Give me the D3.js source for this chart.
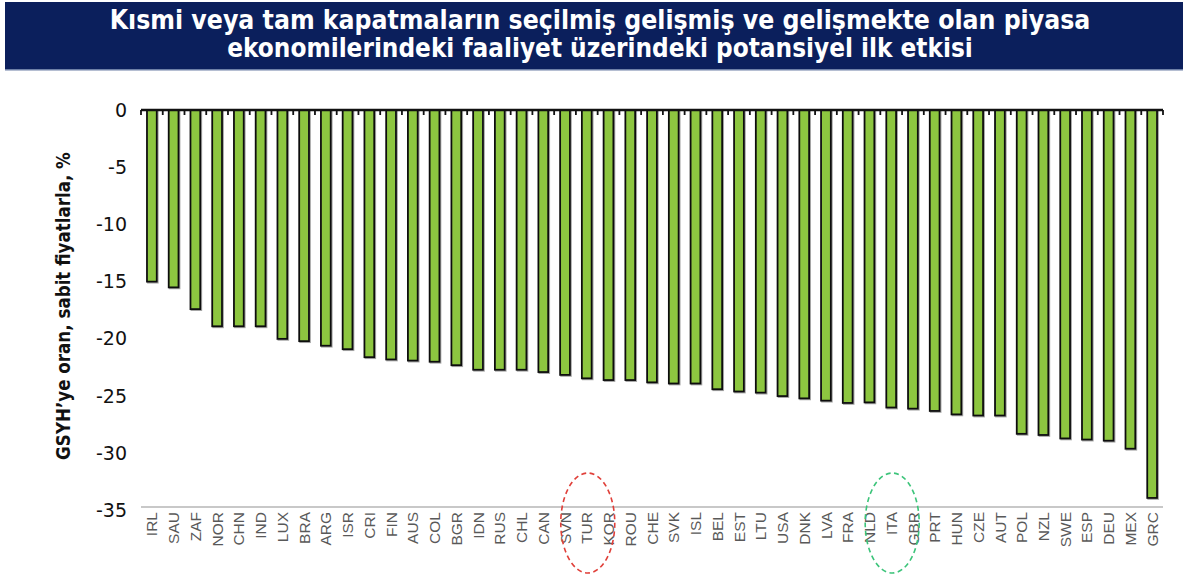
<!DOCTYPE html>
<html><head><meta charset="utf-8">
<script src="https://cdn.jsdelivr.net/npm/d3@7/dist/d3.min.js"></script>
<style>body{margin:0;background:#fff}svg{display:block}</style>
</head><body>
<svg id="c" width="1187" height="574"></svg>
<script>
const categories = ["IRL","SAU","ZAF","NOR","CHN","IND","LUX","BRA","ARG","ISR","CRI","FIN","AUS","COL","BGR","IDN","RUS","CHL","CAN","SVN","TUR","KOR","ROU","CHE","SVK","ISL","BEL","EST","LTU","USA","DNK","LVA","FRA","NLD","ITA","GBR","PRT","HUN","CZE","AUT","POL","NZL","SWE","ESP","DEU","MEX","GRC"];
const values = [-15.0,-15.5,-17.4,-18.9,-18.9,-18.9,-20.0,-20.2,-20.6,-20.9,-21.6,-21.8,-21.9,-22.0,-22.3,-22.7,-22.7,-22.7,-22.9,-23.15,-23.45,-23.6,-23.6,-23.8,-23.9,-23.9,-24.4,-24.6,-24.7,-25.0,-25.2,-25.4,-25.6,-25.55,-26.0,-26.1,-26.3,-26.6,-26.7,-26.7,-28.3,-28.4,-28.7,-28.8,-28.9,-29.6,-33.9];
const yTicks = [0,-5,-10,-15,-20,-25,-30,-35];
const titleLines = ["Kısmi veya tam kapatmaların seçilmiş gelişmiş ve gelişmekte olan piyasa","ekonomilerindeki faaliyet üzerindeki potansiyel ilk etkisi"];
const yTitle = "GSYH’ye oran, sabit fiyatlarla, %";
const highlightRed = "TUR";
const highlightGreen = "ITA";

const svg = d3.select("#c");

// Title banner
svg.append("rect").attr("x",5).attr("y",2).attr("width",1178).attr("height",68).attr("fill","#0b1f5c");
svg.append("rect").attr("x",5).attr("y",69).attr("width",1178).attr("height",1.5).attr("fill","#6d7fa6");
const titleTargets = [981, 746];
titleLines.forEach((t,i)=>{
  const tx = svg.append("text").attr("x",600).attr("y",i===0?29:57)
    .attr("text-anchor","middle").attr("fill","#fff")
    .style("font-family","'DejaVu Sans Condensed','DejaVu Sans',sans-serif")
    .style("font-weight","bold").style("font-size","21px").text(t);
  const w = tx.node().getComputedTextLength();
  tx.style("font-size",(21*titleTargets[i]/w)+"px");
});

const x = d3.scaleBand().domain(categories).range([141,1163]).paddingInner(0.55).paddingOuter(0.275);
const y = d3.scaleLinear().domain([-35,0]).range([510.5,110]);

const defs = svg.append("defs");
const f = defs.append("filter").attr("id","sh").attr("x","-50%").attr("y","-10%").attr("width","200%").attr("height","120%");
f.append("feDropShadow").attr("dx",1).attr("dy",1).attr("stdDeviation",0.7).attr("flood-color","#000").attr("flood-opacity",0.35);

// bottom gray line
svg.append("line").attr("x1",141).attr("x2",1163).attr("y1",y(-35)-3.5).attr("y2",y(-35)-3.5)
  .attr("stroke","#c8c8c8").attr("stroke-width",2);

// bars
svg.append("g").selectAll("rect").data(categories).join("rect")
  .attr("x",d=>x(d)).attr("y",y(0))
  .attr("width",x.bandwidth()).attr("height",(d,i)=>y(values[i])-y(0))
  .attr("fill","#8dc63f").attr("stroke","#111").attr("stroke-width",1.8)
  .attr("filter","url(#sh)");

// zero axis with ticks at boundaries
const step = x.step();
const bounds = categories.map(c=>x(c)-(step-x.bandwidth())/2).concat([x(categories[categories.length-1])+x.bandwidth()+(step-x.bandwidth())/2]);
const zg = svg.append("g");
zg.append("line").attr("x1",bounds[0]).attr("x2",bounds[bounds.length-1]).attr("y1",y(0)).attr("y2",y(0))
  .attr("stroke","#111").attr("stroke-width",2.5);
zg.selectAll("line.t").data(bounds).join("line").attr("class","t")
  .attr("x1",d=>d).attr("x2",d=>d).attr("y1",y(0)).attr("y2",y(0)+5)
  .attr("stroke","#111").attr("stroke-width",1.8);

// y axis labels
const ya = svg.append("g").attr("transform","translate(127,0)")
  .call(d3.axisLeft(y).tickValues(yTicks).tickSize(0).tickPadding(0).tickFormat(d=>String(d)));
ya.select(".domain").remove();
ya.selectAll("text").style("font-family","'DejaVu Sans',sans-serif").style("font-size","19px").attr("fill","#111");

// y title
const yt = svg.append("text").attr("transform","translate(70,306) rotate(-90)")
  .attr("text-anchor","middle").attr("fill","#111")
  .style("font-family","'DejaVu Sans Condensed','DejaVu Sans',sans-serif").style("font-weight","bold").style("font-size","16px")
  .text(yTitle);
const yw = yt.node().getComputedTextLength();
yt.style("font-size",(16*308/yw)+"px");

// x labels
svg.append("g").selectAll("text").data(categories).join("text")
  .attr("transform",d=>`translate(${x(d)+x.bandwidth()/2},512) rotate(-90)`)
  .attr("text-anchor","end").attr("dy","0.36em")
  .attr("fill","#595959")
  .style("font-family","'Liberation Sans',Arial,sans-serif").style("font-size","15.5px")
  .text(d=>d);

// highlight ellipses
[[highlightRed,"#e0403a"],[highlightGreen,"#3cc47a"]].forEach(([c,col])=>{
  svg.append("ellipse").attr("cx",x(c)+x.bandwidth()/2+1).attr("cy",523)
    .attr("rx",27).attr("ry",50).attr("fill","none")
    .attr("stroke",col).attr("stroke-width",1.6).attr("stroke-dasharray","5,3.5");
});
</script>
</body></html>
